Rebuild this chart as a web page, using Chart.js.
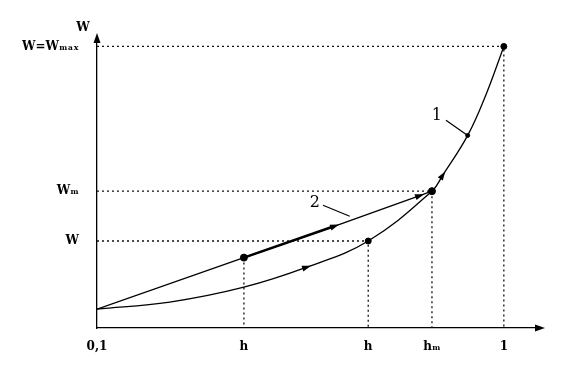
<!DOCTYPE html>
<html>
<head>
<meta charset="utf-8">
<script src="https://cdn.jsdelivr.net/npm/chart.js@4"></script>
<style>
  html, body { margin: 0; padding: 0; background: #fff; }
  .wrap { width: 571px; height: 365px; position: relative; }
</style>
</head>
<body>
<div class="wrap"><canvas id="chart"></canvas></div>
<script>
  // curve 1: W(h)
  const curve1H = [0.1, 0.261, 0.425, 0.564, 0.70, 0.841, 0.865, 0.920, 0.962, 1.0];
  const curve1W = [0.067, 0.092, 0.145, 0.216, 0.309, 0.486, 0.543, 0.684, 0.835, 1.0];

  // line 2: straight path from start to h_m
  const line2H = [0.1, 0.425, 0.626, 0.814, 0.841];
  const line2W = [0.067, 0.250, 0.362, 0.470, 0.486];

  // bolder stretch of line 2
  const boldH = [0.425, 0.626];
  const boldW = [0.250, 0.362];

  // tick positions and labels
  const xTickVals = [0.1, 0.425, 0.70, 0.841, 1.0];
  const xTickLabels = ["0,1", "h", "h", "hₘ", "1"];
  const yTickVals = [0.309, 0.486, 1.0];
  const yTickLabels = ["W", "Wₘ", "W=Wₘₐₓ"];

  // dotted guides: [h, W, withHorizontal]
  const guides = [
    [1.0, 1.0, true],
    [0.841, 0.486, true],
    [0.70, 0.309, true],
    [0.425, 0.250, false],
  ];

  // big dots
  const dotH = [0.425, 0.70, 0.841, 1.0, 0.920];
  const dotW = [0.250, 0.309, 0.486, 1.0, 0.684];

  // arrowheads: [dataset index, point index]
  const arrows = [[0, 3], [0, 6], [1, 2], [1, 3]];

  const toPts = (xs, ys) => xs.map((x, i) => ({ x: x, y: ys[i] }));

  const font = "DejaVu Serif";

  const guideSets = guides.map((g) => ({
    data: g[2]
      ? [{ x: 0.1, y: g[1] }, { x: g[0], y: g[1] }, { x: g[0], y: 0 }]
      : [{ x: g[0], y: g[1] }, { x: g[0], y: 0 }],
    borderColor: "#111",
    borderWidth: 1.3,
    borderDash: [2, 3],
    pointRadius: 0,
    showLine: true,
    fill: false,
  }));

  const extras = {
    id: "extras",
    afterDatasetsDraw(chart) {
      const c = chart.ctx;
      const xs = chart.scales.x;
      const ys = chart.scales.y;
      const area = chart.chartArea;
      c.save();
      c.fillStyle = "#000";
      c.strokeStyle = "#000";

      function head(px, py, ang, len, wid) {
        c.save();
        c.translate(px, py);
        c.rotate(ang);
        c.beginPath();
        c.moveTo(len / 2, 0);
        c.lineTo(-len / 2, -wid / 2);
        c.lineTo(-len / 2, wid / 2);
        c.closePath();
        c.fill();
        c.restore();
      }

      // arrows along the curves
      arrows.forEach(([d, i]) => {
        const pts = chart.getDatasetMeta(d).data;
        const a = pts[i], b = pts[i - 1];
        const ang = Math.atan2(a.y - b.y, a.x - b.x);
        head(a.x, a.y, ang, 9, 6);
      });

      // axis arrows
      head(area.left, area.top, -Math.PI / 2, 10, 7);
      head(area.right, area.bottom, 0, 10, 7);

      // leaders for curve labels
      c.lineWidth = 1.2;
      c.beginPath();
      c.moveTo(xs.getPixelForValue(0.872), ys.getPixelForValue(0.738));
      c.lineTo(xs.getPixelForValue(0.920), ys.getPixelForValue(0.684));
      c.moveTo(xs.getPixelForValue(0.600), ys.getPixelForValue(0.436));
      c.lineTo(xs.getPixelForValue(0.659), ys.getPixelForValue(0.397));
      c.stroke();

      c.font = "16px '" + font + "'";
      c.textAlign = "center";
      c.textBaseline = "middle";
      c.fillText("1", xs.getPixelForValue(0.852), ys.getPixelForValue(0.755));
      c.fillText("2", xs.getPixelForValue(0.582), ys.getPixelForValue(0.445));

      // axis name
      c.font = "bold 12px '" + font + "'";
      c.fillText("W", area.left - 14, area.top - 10);
      c.restore();
    },
  };

  new Chart(document.getElementById("chart"), {
    type: "scatter",
    data: {
      datasets: [
        {
          data: toPts(curve1H, curve1W),
          borderColor: "#000",
          borderWidth: 1.3,
          pointRadius: 0,
          showLine: true,
          tension: 0.4,
          fill: false,
        },
        {
          data: toPts(line2H, line2W),
          borderColor: "#000",
          borderWidth: 1.4,
          pointRadius: 0,
          showLine: true,
          tension: 0,
          fill: false,
        },
        {
          data: toPts(boldH, boldW),
          borderColor: "#000",
          borderWidth: 2.6,
          pointRadius: 0,
          showLine: true,
          fill: false,
        },
        {
          data: toPts(dotH, dotW),
          backgroundColor: "#000",
          borderColor: "#000",
          pointRadius: [3.5, 3, 3.5, 3, 2],
          showLine: false,
        },
        ...guideSets,
      ],
    },
    options: {
      responsive: true,
      maintainAspectRatio: false,
      animation: false,
      layout: { padding: { top: 38, right: 31, left: 0, bottom: 0 } },
      plugins: { legend: { display: false }, tooltip: { enabled: false } },
      scales: {
        x: {
          type: "linear",
          min: 0.1,
          max: 1.08,
          grid: { display: false, drawTicks: false },
          border: { display: true, color: "#000", width: 1.3 },
          afterBuildTicks: (s) => { s.ticks = xTickVals.map((v) => ({ value: v })); },
          afterFit: (s) => { s.height = 37; },
          ticks: {
            padding: 12,
            color: "#000",
            font: { family: font, size: 12, weight: "bold" },
            callback: (v) => xTickLabels[xTickVals.indexOf(v)],
          },
        },
        y: {
          type: "linear",
          min: 0,
          max: 1.03,
          grid: { display: false, drawTicks: false },
          border: { display: true, color: "#000", width: 1.3 },
          afterBuildTicks: (s) => { s.ticks = yTickVals.map((v) => ({ value: v })); },
          afterFit: (s) => { s.width = 97; },
          ticks: {
            padding: 18,
            color: "#000",
            font: { family: font, size: 12, weight: "bold" },
            callback: (v) => yTickLabels[yTickVals.indexOf(v)],
          },
        },
      },
    },
    plugins: [extras],
  });
</script>
</body>
</html>
